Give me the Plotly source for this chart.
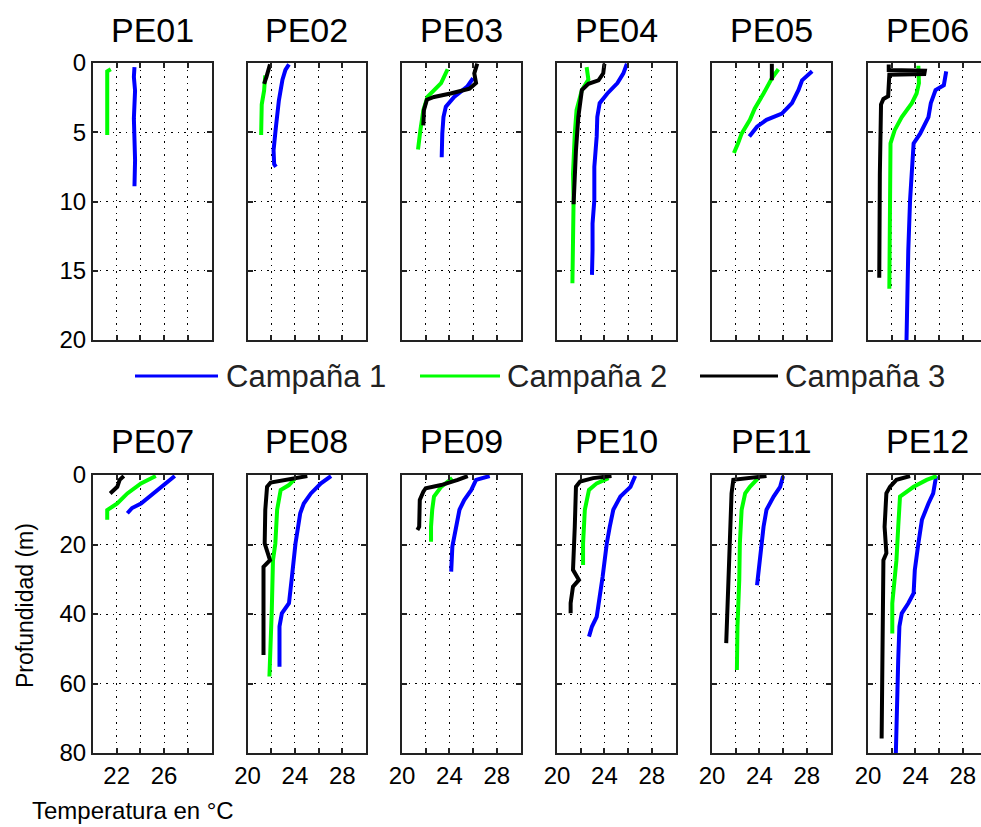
import plotly.graph_objects as go

# ---------------- data (temperature in °C, depth in m) ----------------
stations = ["PE01", "PE02", "PE03", "PE04", "PE05", "PE06",
            "PE07", "PE08", "PE09", "PE10", "PE11", "PE12"]
campaigns = ["Campaña 1", "Campaña 2", "Campaña 3"]

pe01_t1 = [23.5, 23.45, 23.55, 23.5, 23.45, 23.5, 23.55, 23.5]
pe01_d1 = [0.3, 1, 2, 3, 4, 5.5, 7, 8.9]
pe01_t2 = [21.5, 21.2, 21.2, 21.15, 21.2]
pe01_d2 = [0.45, 0.6, 2, 4, 5.2]
pe01_t3 = []
pe01_d3 = []

pe02_t1 = [23.5, 23.2, 22.95, 22.65, 22.4, 22.2, 22.25, 22.4]
pe02_d1 = [0.1, 0.5, 1.2, 2.7, 4.6, 6.3, 7.3, 7.5]
pe02_t2 = [21.5, 21.4, 21.2, 21.15, 21.15]
pe02_d2 = [0.9, 2.0, 3.0, 4.0, 5.2]
pe02_t3 = [21.9, 21.8, 21.6, 21.4]
pe02_d3 = [0.1, 0.5, 1.0, 1.5]

pe03_t1 = [26.0, 25.5, 24.4, 23.7, 23.5, 23.4, 23.35]
pe03_d1 = [1.1, 1.7, 2.45, 3.15, 3.9, 5.1, 6.8]
pe03_t2 = [23.85, 23.3, 22.15, 21.8, 21.55, 21.35]
pe03_d2 = [0.45, 1.45, 2.45, 3.4, 4.85, 6.25]
pe03_t3 = [26.35, 26.1, 26.25, 25.7, 24.1, 22.7, 22.1, 21.85, 21.8]
pe03_d3 = [0.05, 0.75, 1.45, 1.85, 2.2, 2.45, 2.65, 3.4, 4.5]

pe04_t1 = [25.9, 25.6, 25.1, 24.25, 23.6, 23.4, 23.35, 23.15, 23.15, 23.0, 23.0, 22.95]
pe04_d1 = [0.05, 0.75, 1.45, 2.2, 2.9, 3.9, 5.3, 7.5, 9.9, 11.6, 13.5, 15.3]
pe04_t2 = [22.5, 22.65, 22.1, 21.65, 21.5, 21.35, 21.4, 21.35, 21.3]
pe04_d2 = [0.3, 1.2, 1.95, 3.4, 5.1, 8.0, 9.9, 12.3, 15.9]
pe04_t3 = [24.0, 23.9, 23.5, 22.65, 22.1, 21.8, 21.6, 21.5, 21.4]
pe04_d3 = [0.05, 0.75, 1.25, 1.5, 1.95, 3.9, 6.3, 8.7, 10.2]

pe05_t1 = [28.45, 27.6, 27.3, 26.75, 25.9, 24.6, 23.8, 23.15]
pe05_d1 = [0.6, 1.25, 1.95, 2.9, 3.65, 4.1, 4.6, 5.3]
pe05_t2 = [25.6, 25.05, 24.35, 23.6, 23.2, 22.5, 22.2, 21.85]
pe05_d2 = [0.45, 1.1, 2.2, 3.3, 4.1, 5.1, 5.8, 6.5]
pe05_t3 = [25.05, 25.05]
pe05_d3 = [0.05, 1.25]

pe06_t1 = [26.6, 26.4, 25.7, 25.3, 25.1, 24.4, 23.85, 23.7, 23.55, 23.4, 23.35, 23.25]
pe06_d1 = [0.6, 1.6, 1.95, 2.9, 3.9, 5.1, 5.8, 7.5, 9.9, 13.5, 17.1, 20]
pe06_t2 = [24.25, 24.3, 24.1, 23.7, 22.85, 22.25, 21.9, 21.85, 21.8, 21.8]
pe06_d2 = [0.2, 1.45, 2.2, 2.9, 3.9, 4.85, 5.8, 9.9, 13.5, 16.3]
pe06_t3 = [21.75, 21.75, 24.8, 24.75, 21.8, 21.75, 21.7, 21.3, 21.1, 21.0, 20.95]
pe06_d3 = [0.1, 0.5, 0.55, 0.8, 0.85, 1.5, 2.4, 2.6, 3.0, 8.0, 15.5]

pe07_t1 = [26.9, 26.15, 25.05, 24.05, 23.3, 22.9]
pe07_d1 = [0.3, 2.4, 5.3, 8.2, 9.5, 11.0]
pe07_t2 = [25.3, 24.05, 22.9, 22.05, 21.2, 21.2]
pe07_d2 = [0.3, 2.4, 5.3, 8.2, 10.1, 12.9]
pe07_t3 = [22.6, 22.25, 22.05, 21.45]
pe07_d3 = [0.3, 1.4, 3.4, 5.3]

pe08_t1 = [27.05, 26.2, 25.35, 24.75, 24.45, 24.05, 23.75, 23.5, 22.9, 22.7, 22.7]
pe08_d1 = [0.3, 2.4, 5.3, 8.2, 11.0, 19.7, 29.3, 36.9, 39.8, 43.6, 55.2]
pe08_t2 = [24.15, 23.5, 22.8, 22.5, 22.35, 22.15, 22.05, 21.85]
pe08_d2 = [0.5, 2.9, 4.3, 10.0, 19.7, 24.5, 38.8, 58.0]
pe08_t3 = [25.05, 23.65, 21.95, 21.65, 21.5, 21.45, 21.9, 21.35, 21.35, 21.35]
pe08_d3 = [0.3, 1.25, 2.2, 3.4, 10, 19.7, 24.5, 26.4, 38.8, 51.8]

pe09_t1 = [27.4, 26.25, 25.85, 25.25, 24.85, 24.55, 24.25, 24.15]
pe09_d1 = [0.3, 1.4, 4.3, 7.2, 10.0, 14.9, 20.6, 27.8]
pe09_t2 = [24.25, 23.3, 22.7, 22.55, 22.45, 22.45]
pe09_d2 = [0.9, 3.4, 6.2, 10.0, 14.9, 19.2]
pe09_t3 = [25.55, 24.7, 23.3, 22.0, 21.8, 21.5, 21.45, 21.3]
pe09_d3 = [0.3, 1.4, 2.9, 3.8, 4.8, 7.2, 14.9, 15.8]

pe10_t1 = [26.6, 26.2, 25.35, 24.75, 24.45, 24.2, 23.85, 23.6, 23.35, 22.95, 22.7]
pe10_d1 = [0.3, 3.4, 6.2, 10.0, 14.9, 19.7, 29.3, 36.0, 40.8, 43.6, 46.5]
pe10_t2 = [24.35, 23.35, 22.7, 22.35, 22.2, 22.2]
pe10_d2 = [0.9, 2.4, 4.3, 10.0, 19.7, 25.9]
pe10_t3 = [24.6, 23.05, 21.95, 21.6, 21.5, 21.35, 21.85, 21.35, 21.15, 21.15]
pe10_d3 = [0.3, 0.9, 1.9, 3.4, 14.9, 27.3, 30.2, 32.1, 36.9, 39.8]

pe11_t1 = [26.0, 25.75, 25.2, 24.6, 24.35, 24.2, 24.1, 23.8]
pe11_d1 = [0.3, 3.4, 6.2, 10.0, 14.9, 19.7, 24.5, 31.7]
pe11_t2 = [23.9, 23.2, 22.8, 22.5, 22.35, 22.3, 22.15, 22.1]
pe11_d2 = [0.9, 3.4, 5.3, 10.0, 19.7, 30.2, 43.6, 56.1]
pe11_t3 = [24.6, 23.2, 21.8, 21.65, 21.55, 21.45, 21.35, 21.2, 21.2]
pe11_d3 = [0.3, 0.9, 1.4, 5.3, 14.9, 24.5, 34.0, 41.7, 48.4]

pe12_t1 = [25.75, 25.5, 25.1, 24.55, 24.25, 23.95, 23.85, 23.4, 22.85, 22.65, 22.55, 22.45, 22.4, 22.35]
pe12_d1 = [0.3, 5.3, 8.2, 12.9, 19.7, 27.3, 34.0, 36.9, 39.8, 43.6, 53.2, 62.8, 72.4, 80]
pe12_t2 = [25.8, 24.95, 23.85, 23.0, 22.7, 22.55, 22.4, 22.05, 22.05]
pe12_d2 = [0.3, 1.4, 3.4, 5.3, 6.2, 14.9, 24.5, 36.9, 45.6]
pe12_t3 = [23.55, 22.4, 21.85, 21.55, 21.4, 21.55, 21.3, 21.2, 21.2, 21.15, 21.15]
pe12_d3 = [0.3, 1.4, 3.4, 5.3, 14.9, 22.5, 24.5, 48.4, 58.0, 66.7, 75.8]

top_depth_ticks = [0, 5, 10, 15, 20]
bottom_depth_ticks = [0, 20, 40, 60, 80]
temp_ticks = [20, 22, 24, 26, 28]
temp_labels_first = ["", "22", "", "26", ""]
temp_labels_other = ["20", "", "24", "", "28"]

profiles = [
    [(pe01_t1, pe01_d1), (pe01_t2, pe01_d2), (pe01_t3, pe01_d3)],
    [(pe02_t1, pe02_d1), (pe02_t2, pe02_d2), (pe02_t3, pe02_d3)],
    [(pe03_t1, pe03_d1), (pe03_t2, pe03_d2), (pe03_t3, pe03_d3)],
    [(pe04_t1, pe04_d1), (pe04_t2, pe04_d2), (pe04_t3, pe04_d3)],
    [(pe05_t1, pe05_d1), (pe05_t2, pe05_d2), (pe05_t3, pe05_d3)],
    [(pe06_t1, pe06_d1), (pe06_t2, pe06_d2), (pe06_t3, pe06_d3)],
    [(pe07_t1, pe07_d1), (pe07_t2, pe07_d2), (pe07_t3, pe07_d3)],
    [(pe08_t1, pe08_d1), (pe08_t2, pe08_d2), (pe08_t3, pe08_d3)],
    [(pe09_t1, pe09_d1), (pe09_t2, pe09_d2), (pe09_t3, pe09_d3)],
    [(pe10_t1, pe10_d1), (pe10_t2, pe10_d2), (pe10_t3, pe10_d3)],
    [(pe11_t1, pe11_d1), (pe11_t2, pe11_d2), (pe11_t3, pe11_d3)],
    [(pe12_t1, pe12_d1), (pe12_t2, pe12_d2), (pe12_t3, pe12_d3)],
]

# ---------------- styling / layout ----------------
W, H = 981, 827
colors = ["#0000ff", "#00ff00", "#000000"]
FONT = "Liberation Sans, Arial, Helvetica, sans-serif"
col_left = [93, 247.5, 402, 557, 712, 868]
col_w = 118.5
row_top = [(63, 340), (475, 753)]
title_y = [30, 441]

fig = go.Figure()
layout = {}
annotations = []
shapes = []

for i, st in enumerate(stations):
    row, col = divmod(i, 6)
    idx = i + 1
    xa = "x" if idx == 1 else f"x{idx}"
    ya = "y" if idx == 1 else f"y{idx}"
    left = col_left[col]
    right = min(left + col_w, W)
    xmax = 20 + (right - left) / col_w * 10
    py0, py1 = row_top[row]
    for c in range(3):
        t, d = profiles[i][c]
        if not t:
            continue
        fig.add_trace(go.Scatter(x=t, y=d, mode="lines", xaxis=xa, yaxis=ya,
                                 line=dict(color=colors[c], width=4),
                                 name=campaigns[c], showlegend=False))
    clipped = right < left + col_w
    if row == 0:
        ttext = [""] * 5
    else:
        ttext = temp_labels_first if col == 0 else temp_labels_other
    layout["xaxis" if idx == 1 else f"xaxis{idx}"] = dict(
        domain=[left / W, right / W], range=[20, xmax], anchor=ya,
        tickmode="array", tickvals=temp_ticks, ticktext=ttext,
        showgrid=True, gridcolor="#000000", gridwidth=1, griddash="1.5px,5px",
        showline=True, linecolor="#222222", linewidth=2, mirror="ticks",
        ticks="inside", ticklen=5, tickwidth=1.5, tickcolor="#222222",
        zeroline=False, fixedrange=True, automargin=False,
        tickfont=dict(family=FONT, size=24, color="#000000"))
    dticks = top_depth_ticks if row == 0 else bottom_depth_ticks
    layout["yaxis" if idx == 1 else f"yaxis{idx}"] = dict(
        domain=[1 - py1 / H, 1 - py0 / H], range=[dticks[-1], dticks[0]], anchor=xa,
        tickmode="array", tickvals=dticks,
        ticktext=[str(v) for v in dticks] if col == 0 else [""] * 5,
        showgrid=True, gridcolor="#000000", gridwidth=1, griddash="1.5px,5px",
        showline=True, linecolor="#222222", linewidth=2,
        mirror=False if clipped else "ticks",
        ticks="inside", ticklen=5, tickwidth=1.5, tickcolor="#222222",
        zeroline=False, fixedrange=True, automargin=False,
        tickfont=dict(family=FONT, size=24, color="#000000"))
    annotations.append(dict(text=st, x=(left + col_w / 2) / W, y=1 - title_y[row] / H,
                            xref="paper", yref="paper", showarrow=False,
                            xanchor="center", yanchor="middle",
                            font=dict(family=FONT, size=34, color="#000000")))

# legend drawn by hand (long line keys, as in the original)
leg_y = 1 - 376 / H
leg_items = [(135, 218, 224), (420, 500, 505), (700, 778, 783)]
for c, (x0, x1, tx) in enumerate(leg_items):
    shapes.append(dict(type="line", xref="paper", yref="paper",
                       x0=x0 / W, x1=x1 / W, y0=leg_y, y1=leg_y,
                       line=dict(color=colors[c], width=3)))
    annotations.append(dict(text=campaigns[c], x=tx / W, y=leg_y,
                            xref="paper", yref="paper", showarrow=False,
                            xanchor="left", yanchor="middle",
                            font=dict(family=FONT, size=31, color="#222222")))

annotations.append(dict(text="Profundidad (m)", x=25 / W, y=1 - 606 / H,
                        xref="paper", yref="paper", showarrow=False, textangle=-90,
                        xanchor="center", yanchor="middle",
                        font=dict(family=FONT, size=23, color="#000000")))
annotations.append(dict(text="Temperatura en °C", x=30 / W, y=1 - 810 / H,
                        xref="paper", yref="paper", showarrow=False,
                        xanchor="left", yanchor="middle",
                        font=dict(family=FONT, size=24, color="#000000")))

fig.update_layout(**layout)
fig.update_layout(width=W, height=H, margin=dict(l=0, r=0, t=0, b=0, autoexpand=False),
                  paper_bgcolor="white", plot_bgcolor="white",
                  showlegend=False, annotations=annotations, shapes=shapes)

fig.write_html("out.html", config={"displayModeBar": False})
